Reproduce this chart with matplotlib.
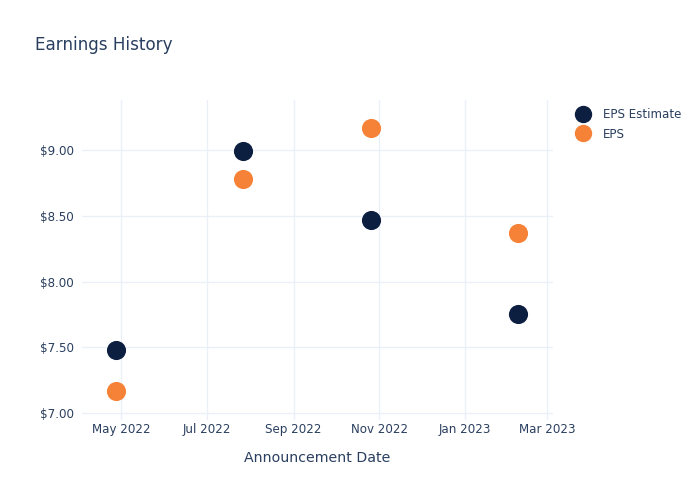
import matplotlib
matplotlib.use("Agg")
import matplotlib.pyplot as plt
import matplotlib.dates as mdates
import pandas as pd
from matplotlib.lines import Line2D

dates = ["2022-04-27", "2022-07-27", "2022-10-26", "2023-02-08"]
eps_estimate = [7.48, 8.99, 8.47, 7.75]
eps_actual = [7.17, 8.78, 9.17, 8.37]
tick_dates = ["2022-05-01", "2022-07-01", "2022-09-01", "2022-11-01", "2023-01-01", "2023-03-01"]

x = pd.to_datetime(dates)
ticks = pd.to_datetime(tick_dates)

font_color = "#2a3f5f"
grid_color = "#ebf0f8"
navy = "#0c1f41"
orange = "#f68237"

fig = plt.figure(figsize=(7, 5), dpi=100)
ax = fig.add_axes([82/700, 1 - 420/500, (553-82)/700, (420-100)/500])

ax.scatter(x, eps_estimate, s=190, color=navy, zorder=3, linewidths=0)
ax.scatter(x, eps_actual, s=190, color=orange, zorder=3, linewidths=0)

ax.set_xlim(pd.Timestamp("2022-04-03"), pd.Timestamp("2023-03-05"))
ax.set_ylim(6.947, 9.38)
ax.set_xticks(ticks)
ax.xaxis.set_major_formatter(mdates.DateFormatter("%b %Y"))
ax.set_yticks([7.0, 7.5, 8.0, 8.5, 9.0])
ax.set_yticklabels(["$7.00", "$7.50", "$8.00", "$8.50", "$9.00"])

ax.grid(True, color=grid_color, linewidth=1)
ax.set_axisbelow(True)
for s in ax.spines.values():
    s.set_visible(False)
ax.tick_params(length=0, colors=font_color, labelsize=8.6)
ax.tick_params(axis="x", pad=2)
ax.tick_params(axis="y", pad=6)

ax.set_xlabel("Announcement Date", color=font_color, fontsize=10.2, labelpad=11)
fig.text(35/700, 1 - 45/500, "Earnings History", color=font_color, fontsize=12.1, va="center", ha="left")

handles = [Line2D([], [], marker="o", linestyle="", markersize=11.5, color=navy),
           Line2D([], [], marker="o", linestyle="", markersize=11.5, color=orange)]
leg = fig.legend(handles, ["EPS Estimate", "EPS"], loc="upper left",
                 bbox_to_anchor=(574/700, 1 - 108/500), frameon=False,
                 fontsize=8.6, handletextpad=0.9, labelspacing=0.55, borderaxespad=0,
                 handlelength=1.5, borderpad=0)
for t in leg.get_texts():
    t.set_color(font_color)

fig.savefig("out.png", dpi=100)
